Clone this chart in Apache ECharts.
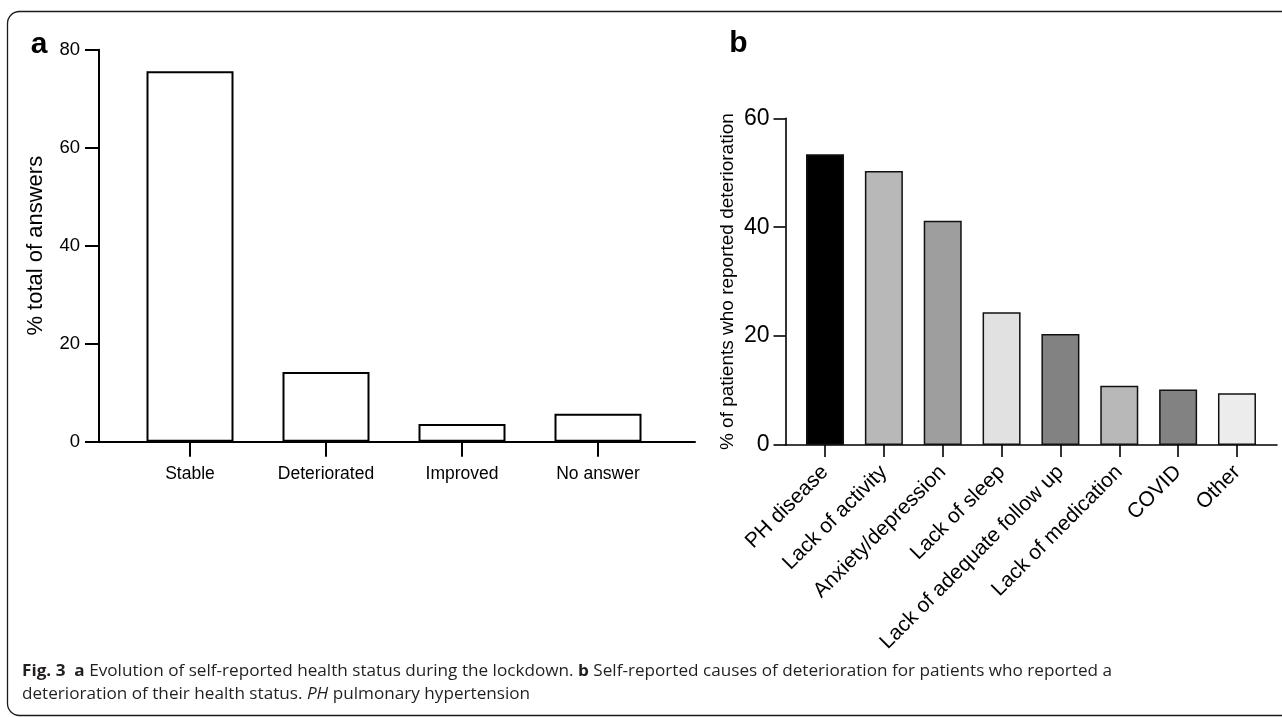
<!DOCTYPE html>
<html>
<head>
<meta charset="utf-8">
<script src="https://cdn.jsdelivr.net/npm/echarts@6/dist/echarts.min.js"></script>
<style>
html,body{margin:0;padding:0;background:#fff;}
#main{width:1282px;height:717px;}
</style>
</head>
<body>
<div id="main"></div>
<script>
// ---- data ----
const catsA = ['Stable', 'Deteriorated', 'Improved', 'No answer'];
const valsA = [75.6, 14.2, 3.6, 5.7];
const yTicksA = [0, 20, 40, 60, 80];

const catsB = ['PH disease', 'Lack of activity', 'Anxiety/depression', 'Lack of sleep',
  'Lack of adequate follow up', 'Lack of medication', 'COVID', 'Other'];
const valsB = [53.4, 50.3, 41.2, 24.4, 20.4, 10.9, 10.2, 9.5];
const yTicksB = [0, 20, 40, 60];
const fillsB = ['#000000', '#b7b8b7', '#9d9e9d', '#e0e1e0', '#828282', '#b7b8b7', '#828282', '#ececec'];

const captionLine1 = '{b|Fig. 3}  {b|a} Evolution of self-reported health status during the lockdown. {b|b} Self-reported causes of deterioration for patients who reported a';
const captionLine2 = 'deterioration of their health status. {i|PH} pulmonary hypertension';

// ---- styles ----
const NARROW = "'Liberation Sans Narrow', 'Arial Narrow', 'Liberation Sans', Arial, sans-serif";
const SANS = "'Liberation Sans', Arial, Helvetica, sans-serif";
const CAP = "'Open Sans', 'Noto Sans', sans-serif";

const chart = echarts.init(document.getElementById('main'), null, {renderer: 'canvas'});

function measureRich(str, size) {
  const c = document.createElement('canvas').getContext('2d');
  let w = 0;
  const re = /\{(\w)\|([^}]*)\}|([^{]+)/g;
  let m;
  while ((m = re.exec(str))) {
    if (m[1]) {
      const st = m[1] === 'b' ? 'bold ' : 'italic ';
      c.font = st + size + 'px ' + CAP;
      w += c.measureText(m[2]).width;
    } else {
      c.font = size + 'px ' + CAP;
      w += c.measureText(m[3]).width;
    }
  }
  return w;
}
const capSize = 16.5;
const capScale = 1090 / measureRich(captionLine1, capSize);
const capRich = {
  b: {fontWeight: 'bold', fontFamily: CAP, fontSize: capSize, fill: '#231f20'},
  i: {fontStyle: 'italic', fontFamily: CAP, fontSize: capSize, fill: '#231f20'}
};

const option = {
  animation: false,
  backgroundColor: '#ffffff',
  grid: [
    {left: 99, top: 49.7, width: 596, height: 392},
    {left: 122, top: 49.7, width: 544, height: 392},
    {left: 785.5, top: 118.3, width: 491.5, height: 326.7},
    {left: 795.6, top: 118.3, width: 470.8, height: 326.7}
  ],
  xAxis: [
    {gridIndex: 0, type: 'value', min: 0, max: 1,
      axisLine: {show: true, lineStyle: {color: '#000', width: 2}},
      axisTick: {show: false}, axisLabel: {show: false}, splitLine: {show: false}},
    {gridIndex: 1, type: 'category', data: catsA,
      axisLine: {show: false},
      axisTick: {show: true, alignWithLabel: true, length: 15, interval: 0, lineStyle: {color: '#000', width: 2}},
      axisLabel: {margin: 23, interval: 0, color: '#000', fontSize: 17.5, fontFamily: NARROW},
      splitLine: {show: false}},
    {gridIndex: 2, type: 'value', min: 0, max: 1,
      axisLine: {show: true, lineStyle: {color: '#000', width: 1.6}},
      axisTick: {show: false}, axisLabel: {show: false}, splitLine: {show: false}},
    {gridIndex: 3, type: 'category', data: catsB,
      axisLine: {show: false},
      axisTick: {show: true, alignWithLabel: true, length: 12, interval: 0, lineStyle: {color: '#000', width: 1.6}},
      axisLabel: {margin: 24, rotate: 45, color: '#000', fontSize: 21, fontFamily: SANS, interval: 0},
      splitLine: {show: false}}
  ],
  yAxis: [
    {gridIndex: 0, type: 'value', min: yTicksA[0], max: yTicksA[yTicksA.length - 1], interval: yTicksA[1] - yTicksA[0],
      axisLine: {show: true, lineStyle: {color: '#000', width: 2}},
      axisTick: {show: true, length: 14, lineStyle: {color: '#000', width: 2}},
      axisLabel: {margin: 19, color: '#000', fontSize: 18.5, fontFamily: NARROW},
      splitLine: {show: false},
      name: '% total of answers', nameLocation: 'middle', nameGap: 52,
      nameTextStyle: {color: '#000', fontSize: 22, fontFamily: SANS}},
    {gridIndex: 1, type: 'value', show: false, min: yTicksA[0], max: yTicksA[yTicksA.length - 1], splitLine: {show: false}},
    {gridIndex: 2, type: 'value', min: yTicksB[0], max: yTicksB[yTicksB.length - 1], interval: yTicksB[1] - yTicksB[0],
      axisLine: {show: true, lineStyle: {color: '#000', width: 1.6}},
      axisTick: {show: true, length: 12, lineStyle: {color: '#000', width: 1.6}},
      axisLabel: {margin: 16, color: '#000', fontSize: 23, fontFamily: NARROW},
      splitLine: {show: false},
      name: '% of patients who reported deterioration', nameLocation: 'middle', nameGap: 48,
      nameTextStyle: {color: '#000', fontSize: 19, fontFamily: SANS}},
    {gridIndex: 3, type: 'value', show: false, min: yTicksB[0], max: yTicksB[yTicksB.length - 1], splitLine: {show: false}}
  ],
  series: [
    {type: 'bar', xAxisIndex: 1, yAxisIndex: 1, data: valsA, barWidth: 87,
      itemStyle: {color: '#ffffff', borderColor: '#000', borderWidth: 2}},
    {type: 'bar', xAxisIndex: 3, yAxisIndex: 3, barWidth: 38,
      data: valsB.map((v, i) => ({value: v, itemStyle: {color: fillsB[i]}})),
      itemStyle: {borderColor: '#111', borderWidth: 1.5}}
  ],
  graphic: [
    {type: 'rect', shape: {x: 7.5, y: 11.5, width: 1300, height: 704, r: 12}, silent: true,
      style: {fill: 'none', stroke: '#1a1a1a', lineWidth: 1.3}},
    {type: 'text', x: 39, y: 45, style: {text: 'a', font: 'bold 30px ' + SANS, fill: '#000', textAlign: 'center', textVerticalAlign: 'middle'}},
    {type: 'text', x: 738.5, y: 44, style: {text: 'b', font: 'bold 30px ' + SANS, fill: '#000', textAlign: 'center', textVerticalAlign: 'middle'}},
    {type: 'text', x: 22, y: 671, scaleX: capScale, originX: 0,
      style: {text: captionLine1, fontFamily: CAP, fontSize: capSize, fill: '#231f20', textVerticalAlign: 'middle', rich: capRich}},
    {type: 'text', x: 22, y: 694, scaleX: capScale, originX: 0,
      style: {text: captionLine2, fontFamily: CAP, fontSize: capSize, fill: '#231f20', textVerticalAlign: 'middle', rich: capRich}}
  ]
};
chart.setOption(option);
</script>
</body>
</html>
